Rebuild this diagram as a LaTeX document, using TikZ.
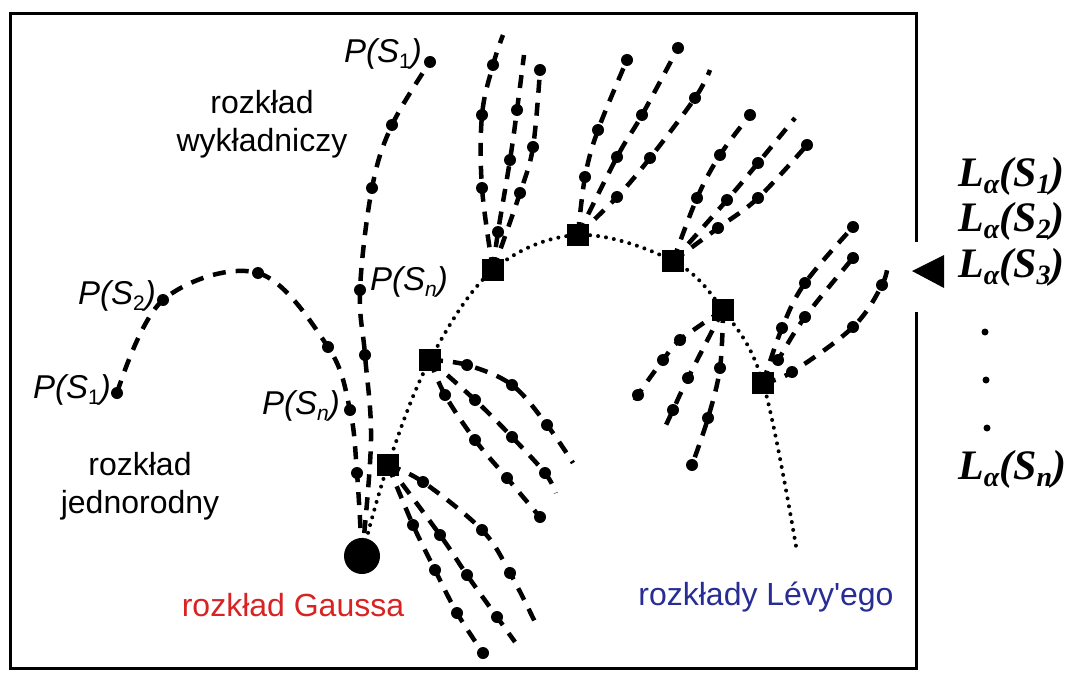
\documentclass[tikz,border=0pt]{standalone}
\usepackage{fontspec}
\setmainfont{Liberation Sans}
\newfontfamily\lfont{Liberation Serif}
\usetikzlibrary{calc}
\definecolor{gred}{RGB}{215,35,35}
\definecolor{lblue}{RGB}{40,45,150}
\newcommand\sbs[1]{\raisebox{-0.32ex}{\fontsize{21}{21}\selectfont #1}}
\newcommand\lsb[1]{\raisebox{-0.38ex}{\fontsize{28}{28}\selectfont #1}}
\newcommand\Lab[1]{{\lfont\bfseries\itshape L\lsb{α}(S\lsb{#1})}}
\tikzset{
  frameln/.style={line width=3pt},
  dashln/.style={line width=4.5pt, dash pattern=on 13pt off 10pt},
  dotln/.style={line width=4pt, line cap=round, dash pattern=on 0pt off 8pt},
  bead/.style={circle, fill, inner sep=0pt, minimum size=12pt},
  sqbox/.style={rectangle, fill, inner sep=0pt, minimum size=22pt},
  gauss/.style={circle, fill, inner sep=0pt, minimum size=36pt},
  txt/.style={font=\fontsize{32}{38}\selectfont, align=center, inner sep=0pt},
  plab/.style={font=\fontsize{33}{38}\selectfont\itshape, inner sep=0pt},
  llab/.style={font=\fontsize{42}{46}\selectfont, inner sep=0pt, anchor=west},
  ldot/.style={circle, fill, inner sep=0pt, minimum size=7pt},
}
\begin{document}
\begin{tikzpicture}[x=1pt,y=-1pt]
\useasboundingbox (0,0) rectangle (1086,679);
% frame
\coordinate (f1) at (916,242);
\coordinate (f2) at (916,14);
\coordinate (f3) at (10,14);
\coordinate (f4) at (10,668);
\coordinate (f5) at (916,668);
\coordinate (f6) at (916,312);
\draw[frameln] (f1) -- (f2) -- (f3) -- (f4) -- (f5) -- (f6);
% pointer triangle
\coordinate (t1) at (912,271);
\coordinate (t2) at (944,255);
\coordinate (t3) at (944,288);
\fill (t1) -- (t2) -- (t3) -- cycle;

% Gaussian point
\node[gauss] (G) at (362,556) {};

% exponential curve
\node[bead] (e1) at (430,62) {};
\node[bead] (e2) at (392,125) {};
\node[bead] (e3) at (372,188) {};
\node[bead] (e4) at (360,290) {};
\node[bead] (e5) at (365,355) {};
\coordinate (e6) at (371,440);
\draw[dashln] plot[smooth, tension=0.6] coordinates {(G) (e6) (e5) (e4) (e3) (e2) (e1)};

% uniform curve
\node[bead] (u1) at (117,393) {};
\node[bead] (u2) at (163,300) {};
\node[bead] (u3) at (258,273) {};
\node[bead] (u4) at (328,347) {};
\node[bead] (u5) at (350,410) {};
\node[bead] (u6) at (357,473) {};
\draw[dashln] plot[smooth, tension=0.6] coordinates {(u1) (u2) (u3) (u4) (u5) (u6) (G)};

% Levy curve
\node[sqbox] (s1) at (388,465) {};
\node[sqbox] (s2) at (430,360) {};
\node[sqbox] (s3) at (493,270) {};
\node[sqbox] (s4) at (578,235) {};
\node[sqbox] (s5) at (673,261) {};
\node[sqbox] (s6) at (723,310) {};
\node[sqbox] (s7) at (763,383) {};
\coordinate (lend) at (797,552);
\draw[dotln] plot[smooth, tension=0.6] coordinates {(G) (s1) (s2) (s3) (s4) (s5) (s6) (s7) (lend)};

% branches of square 1
\node[bead] (a11) at (423,482) {};
\node[bead] (a12) at (482,530) {};
\node[bead] (a13) at (510,573) {};
\coordinate (a14) at (535,622);
\draw[dashln] plot[smooth, tension=0.6] coordinates {(s1) (a11) (a12) (a13) (a14)};
\node[bead] (b11) at (440,535) {};
\node[bead] (b12) at (467,575) {};
\node[bead] (b13) at (497,617) {};
\coordinate (b14) at (515,642);
\draw[dashln] plot[smooth, tension=0.6] coordinates {(s1) (b11) (b12) (b13) (b14)};
\node[bead] (c11) at (413,525) {};
\node[bead] (c12) at (435,570) {};
\node[bead] (c13) at (457,613) {};
\node[bead] (c14) at (483,653) {};
\draw[dashln] plot[smooth, tension=0.6] coordinates {(s1) (c11) (c12) (c13) (c14)};

% branches of square 2
\node[bead] (a21) at (467,365) {};
\node[bead] (a22) at (512,385) {};
\node[bead] (a23) at (547,425) {};
\coordinate (a24) at (573,463);
\draw[dashln] plot[smooth, tension=0.6] coordinates {(s2) (a21) (a22) (a23) (a24)};
\node[bead] (b21) at (475,400) {};
\node[bead] (b22) at (512,437) {};
\node[bead] (b23) at (545,473) {};
\coordinate (b24) at (556,493);
\draw[dashln] plot[smooth, tension=0.6] coordinates {(s2) (b21) (b22) (b23) (b24)};
\node[bead] (c21) at (445,395) {};
\node[bead] (c22) at (475,440) {};
\node[bead] (c23) at (507,478) {};
\node[bead] (c24) at (540,517) {};
\draw[dashln] plot[smooth, tension=0.6] coordinates {(s2) (c21) (c22) (c23) (c24)};

% branches of square 3
\node[bead] (a31) at (482,188) {};
\node[bead] (a32) at (482,115) {};
\node[bead] (a33) at (493,65) {};
\coordinate (a34) at (503,35);
\draw[dashln] plot[smooth, tension=0.6] coordinates {(s3) (a31) (a32) (a33) (a34)};
\node[bead] (b31) at (498,232) {};
\node[bead] (b32) at (510,160) {};
\node[bead] (b33) at (517,110) {};
\coordinate (b34) at (524,55);
\draw[dashln] plot[smooth, tension=0.6] coordinates {(s3) (b31) (b32) (b33) (b34)};
\node[bead] (c31) at (520,193) {};
\node[bead] (c32) at (533,147) {};
\node[bead] (c33) at (540,70) {};
\draw[dashln] plot[smooth, tension=0.6] coordinates {(s3) (c31) (c32) (c33)};

% branches of square 4
\node[bead] (a41) at (585,177) {};
\node[bead] (a42) at (598,130) {};
\node[bead] (a43) at (627,60) {};
\draw[dashln] plot[smooth, tension=0.6] coordinates {(s4) (a41) (a42) (a43)};
\node[bead] (b41) at (617,157) {};
\node[bead] (b42) at (642,115) {};
\node[bead] (b43) at (678,48) {};
\draw[dashln] plot[smooth, tension=0.6] coordinates {(s4) (b41) (b42) (b43)};
\node[bead] (c41) at (617,197) {};
\node[bead] (c42) at (650,158) {};
\node[bead] (c43) at (695,98) {};
\coordinate (c44) at (710,70);
\draw[dashln] plot[smooth, tension=0.6] coordinates {(s4) (c41) (c42) (c43) (c44)};

% branches of square 5
\node[bead] (a51) at (697,198) {};
\node[bead] (a52) at (720,155) {};
\node[bead] (a53) at (750,115) {};
\draw[dashln] plot[smooth, tension=0.6] coordinates {(s5) (a51) (a52) (a53)};
\node[bead] (b51) at (727,200) {};
\node[bead] (b52) at (758,163) {};
\coordinate (b53) at (795,118);
\draw[dashln] plot[smooth, tension=0.6] coordinates {(s5) (b51) (b52) (b53)};
\node[bead] (c51) at (718,228) {};
\node[bead] (c52) at (758,198) {};
\node[bead] (c53) at (807,145) {};
\draw[dashln] plot[smooth, tension=0.6] coordinates {(s5) (c51) (c52) (c53)};

% branches of square 6
\node[bead] (a61) at (680,340) {};
\node[bead] (a62) at (663,360) {};
\node[bead] (a63) at (638,395) {};
\coordinate (a64) at (633,407);
\draw[dashln] plot[smooth, tension=0.6] coordinates {(s6) (a61) (a62) (a63) (a64)};
\node[bead] (b61) at (688,378) {};
\node[bead] (b62) at (673,410) {};
\coordinate (b63) at (666,425);
\draw[dashln] plot[smooth, tension=0.6] coordinates {(s6) (b61) (b62) (b63)};
\node[bead] (c61) at (720,368) {};
\node[bead] (c62) at (708,418) {};
\node[bead] (c63) at (692,465) {};
\draw[dashln] plot[smooth, tension=0.6] coordinates {(s6) (c61) (c62) (c63)};

% branches of square 7
\node[bead] (a71) at (782,328) {};
\node[bead] (a72) at (805,283) {};
\node[bead] (a73) at (853,227) {};
\draw[dashln] plot[smooth, tension=0.6] coordinates {(s7) (a71) (a72) (a73)};
\node[bead] (b71) at (778,360) {};
\node[bead] (b72) at (805,317) {};
\node[bead] (b73) at (853,258) {};
\draw[dashln] plot[smooth, tension=0.6] coordinates {(s7) (b71) (b72) (b73)};
\node[bead] (c71) at (792,372) {};
\node[bead] (c72) at (853,327) {};
\node[bead] (c73) at (882,285) {};
\coordinate (c74) at (888,262);
\draw[dashln] plot[smooth, tension=0.6] coordinates {(s7) (c71) (c72) (c73) (c74)};

% labels
\node[plab, anchor=east] (pe1) at (422,54) {P(S\sbs{\upshape 1})};
\node[plab, anchor=west] (pen) at (370,282) {P(S\sbs{n})};
\node[plab, anchor=east] (pu2) at (156,296) {P(S\sbs{\upshape 2})};
\node[plab, anchor=east] (pu1) at (111,390) {P(S\sbs{\upshape 1})};
\node[plab, anchor=east] (pun) at (340,406) {P(S\sbs{n})};
\node[txt] (wyk) at (262,124) {rozkład\\wykładniczy};
\node[txt] (jed) at (140,486) {rozkład\\jednorodny};
\node[txt, text=gred] (gau) at (293,605) {rozkład Gaussa};
\node[txt, text=lblue] (lev) at (766,597) {rozkłady Lévy\textquotesingle ego};

% L alpha labels
\node[llab] (L1) at (958,176) {\Lab{1}};
\node[llab] (L2) at (958,221) {\Lab{2}};
\node[llab] (L3) at (958,267) {\Lab{3}};
\node[ldot] (d1) at (985,332) {};
\node[ldot] (d2) at (986,380) {};
\node[ldot] (d3) at (987,428) {};
\node[llab] (Ln) at (958,469) {\Lab{n}};
\end{tikzpicture}
\end{document}
